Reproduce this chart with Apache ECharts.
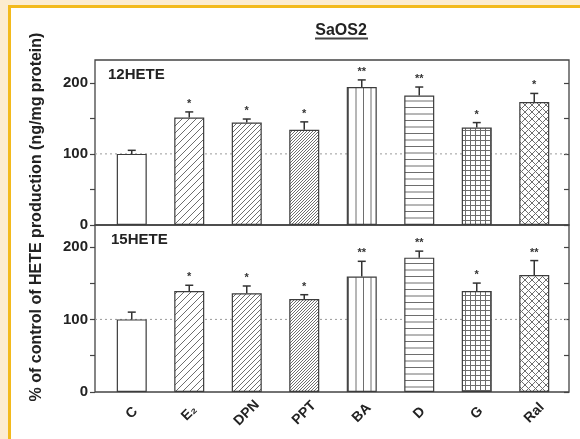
<!DOCTYPE html>
<html>
<head>
<meta charset="utf-8">
<script src="https://cdn.jsdelivr.net/npm/echarts@6/dist/echarts.min.js"></script>
<style>
  html, body { margin: 0; padding: 0; width: 580px; height: 439px; overflow: hidden; background: #fcecd0; }
  #sheet { position: absolute; left: 8px; top: 5px; right: 0; bottom: 0; background: #fff;
           border-left: 3px solid #f3ba1c; border-top: 3px solid #f3ba1c; }
  #chart { position: absolute; left: 0; top: 0; width: 580px; height: 439px; }
</style>
</head>
<body>
<div id="sheet"></div>
<div id="chart"></div>
<script>
// Treatments (x axis)
const categories = ['C', 'E₂', 'DPN', 'PPT', 'BA', 'D', 'G', 'Ral'];

// 12HETE production, % of control
const hete12 = [100, 151, 144, 134, 194, 182, 137, 173];
const hete12Err = [5, 8, 5, 11, 10, 12, 7, 12];
const hete12Sig = ['', '*', '*', '*', '**', '**', '*', '*'];

// 15HETE production, % of control
const hete15 = [100, 139, 136, 128, 159, 185, 139, 161];
const hete15Err = [10, 8, 10, 6, 21, 9, 11, 20];
const hete15Sig = ['', '*', '*', '*', '**', '**', '*', '**'];

// Axis ticks and labels
const yTicks = [0, 50, 100, 150, 200];
const yTickLabels = [0, 100, 200];
const controlLevel = 100;

const FONT = '"Liberation Sans", Arial, sans-serif';
const INK = '#333';
const HATCH = '#6e6e6e';

// ---- fill patterns for the bars ----
function tile(w, h, draw) {
  const c = document.createElement('canvas');
  c.width = w; c.height = h;
  const ctx = c.getContext('2d');
  ctx.fillStyle = '#fff';
  ctx.fillRect(0, 0, w, h);
  ctx.strokeStyle = HATCH;
  ctx.lineWidth = 1;
  ctx.beginPath();
  draw(ctx, w, h);
  ctx.stroke();
  return { image: c, repeat: 'repeat' };
}
function slash(p) {
  return tile(p, p, (ctx) => {
    ctx.moveTo(0, p); ctx.lineTo(p, 0);
    ctx.moveTo(-1, 1); ctx.lineTo(1, -1);
    ctx.moveTo(p - 1, p + 1); ctx.lineTo(p + 1, p - 1);
  });
}
const patterns = [
  '#ffffff',
  slash(7),
  slash(5),
  slash(3),
  tile(15, 4, (ctx) => { ctx.moveTo(3.5, 0); ctx.lineTo(3.5, 4); ctx.moveTo(11, 0); ctx.lineTo(11, 4); }),
  tile(4, 13, (ctx) => { ctx.moveTo(0, 3.5); ctx.lineTo(4, 3.5); ctx.moveTo(0, 10); ctx.lineTo(4, 10); }),
  tile(5, 5, (ctx) => { ctx.moveTo(0.5, 0); ctx.lineTo(0.5, 5); ctx.moveTo(0, 0.5); ctx.lineTo(5, 0.5); }),
  tile(7, 7, (ctx) => {
    ctx.moveTo(0, 7); ctx.lineTo(7, 0);
    ctx.moveTo(-1, 1); ctx.lineTo(1, -1);
    ctx.moveTo(6, 8); ctx.lineTo(8, 6);
    ctx.moveTo(0, 0); ctx.lineTo(7, 7);
    ctx.moveTo(6, -1); ctx.lineTo(8, 1);
    ctx.moveTo(-1, 6); ctx.lineTo(1, 8);
  })
];

// ---- layout of the two stacked panels ----
const frameLeft = 95, frameWidth = 474;
const barLeft = 103, barWidth = 460;
const panels = [
  { top: 60, height: 165, max: 232, values: hete12, errs: hete12Err, sig: hete12Sig, showX: false },
  { top: 225, height: 167, max: 230, values: hete15, errs: hete15Err, sig: hete15Sig, showX: true }
];

const grid = [], xAxis = [], yAxis = [], series = [];

panels.forEach((p, k) => {
  // frame grid (index 2k) and bar grid (index 2k+1)
  grid.push({ left: frameLeft, top: p.top, width: frameWidth, height: p.height, show: true,
              borderColor: '#444', borderWidth: 1.3, backgroundColor: 'transparent', outerBoundsMode: 'none' });
  grid.push({ left: barLeft, top: p.top, width: barWidth, height: p.height, outerBoundsMode: 'none' });
  const fg = 2 * k, bg = 2 * k + 1;

  xAxis.push({ gridIndex: fg, type: 'value', min: 0, max: 1, show: false });
  xAxis.push({
    gridIndex: bg, type: 'category', data: categories, boundaryGap: true,
    axisLine: { show: false }, axisTick: { show: false },
    axisLabel: {
      show: p.showX, interval: 0, rotate: 45, align: 'center', verticalAlign: 'middle', margin: 21,
      fontFamily: FONT, fontWeight: 'bold', fontSize: 14, color: '#222'
    }
  });

  yAxis.push({ gridIndex: fg, type: 'value', min: 0, max: p.max, show: false });
  yAxis.push({
    gridIndex: bg, type: 'value', min: 0, max: p.max, position: 'left', offset: barLeft - frameLeft,
    splitLine: { show: false }, axisLine: { show: false },
    axisTick: { show: true, length: 5, lineStyle: { color: '#444', width: 1.2 }, customValues: yTicks },
    axisLabel: { margin: 7, fontFamily: FONT, fontWeight: 'bold', fontSize: 15, color: '#222', customValues: yTickLabels }
  });
  yAxis.push({
    gridIndex: bg, type: 'value', min: 0, max: p.max, position: 'right',
    offset: frameLeft + frameWidth - barLeft - barWidth,
    splitLine: { show: false }, axisLine: { show: false }, axisLabel: { show: false },
    axisTick: { show: true, inside: true, length: 5, lineStyle: { color: '#444', width: 1.2 }, customValues: yTicks }
  });

  const fx = 2 * k, bx = 2 * k + 1;
  const fy = 3 * k, by = 3 * k + 1;

  // dotted control level across the panel
  series.push({
    type: 'line', xAxisIndex: fx, yAxisIndex: fy, z: 1, silent: true, symbol: 'none',
    data: [[0, controlLevel], [1, controlLevel]],
    lineStyle: { color: '#9a9a9a', width: 1, type: [2, 3] }
  });

  // bars
  series.push({
    type: 'bar', xAxisIndex: bx, yAxisIndex: by, z: 2, barWidth: 30,
    data: p.values.map((v, i) => ({ value: v, itemStyle: { color: patterns[i] } })),
    itemStyle: { borderColor: '#3c3c3c', borderWidth: 1.2 }
  });

  // upper error bars with significance marks
  series.push({
    type: 'custom', xAxisIndex: bx, yAxisIndex: by, z: 4,
    data: p.values.map((v, i) => [i, v, v + p.errs[i]]),
    renderItem: (params, api) => {
      const base = api.coord([api.value(0), api.value(1)]);
      const top = api.coord([api.value(0), api.value(2)]);
      const x = base[0];
      const mark = p.sig[params.dataIndex];
      return {
        type: 'group',
        children: [
          { type: 'line', shape: { x1: x, y1: base[1], x2: x, y2: top[1] }, style: { stroke: INK, lineWidth: 1.5 } },
          { type: 'line', shape: { x1: x - 4, y1: top[1], x2: x + 4, y2: top[1] }, style: { stroke: INK, lineWidth: 1.5 } },
          { type: 'text', x: x, y: top[1] - 8,
            style: { text: mark, fill: INK, font: 'bold 11px ' + FONT, align: 'center', verticalAlign: 'middle' } }
        ]
      };
    }
  });
});

const chart = echarts.init(document.getElementById('chart'), null, { renderer: 'canvas' });
chart.setOption({
  animation: false,
  backgroundColor: 'transparent',
  grid, xAxis, yAxis, series,
  graphic: [
    { type: 'text', x: 341, y: 31, style: { text: 'SaOS2', font: 'bold 16px ' + FONT, fill: '#222', align: 'center', verticalAlign: 'middle' } },
    { type: 'rect', shape: { x: 315, y: 37.5, width: 53, height: 2 }, style: { fill: '#444' } },
    { type: 'text', x: 108, y: 75, style: { text: '12HETE', font: 'bold 15px ' + FONT, fill: '#222', align: 'left', verticalAlign: 'middle' } },
    { type: 'text', x: 111, y: 240, style: { text: '15HETE', font: 'bold 15px ' + FONT, fill: '#222', align: 'left', verticalAlign: 'middle' } },
    { type: 'text', x: 37, y: 217, rotation: Math.PI / 2,
      style: { text: '% of control of HETE production (ng/mg protein)', font: 'bold 16px ' + FONT, fill: '#222', align: 'center', verticalAlign: 'middle' } }
  ]
});
</script>
</body>
</html>
